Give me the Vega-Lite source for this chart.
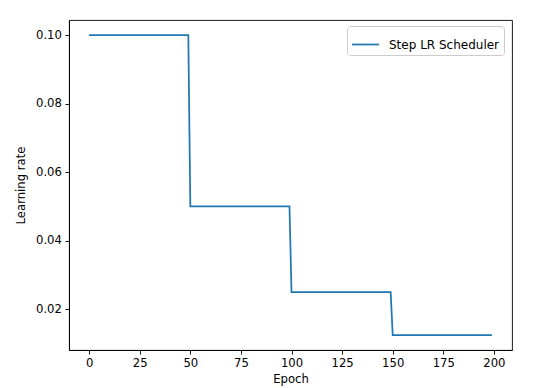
{
  "$schema": "https://vega.github.io/schema/vega-lite/v6.json",
  "width": 443,
  "height": 330,
  "padding": {"left": 69, "top": 20, "right": 25, "bottom": 38},
  "autosize": {"type": "none"},
  "background": "white",
  "config": {
    "font": "DejaVu Sans",
    "view": {"stroke": "#000000", "strokeWidth": 0.9},
    "axis": {
      "grid": false,
      "domainColor": "#000000",
      "domainWidth": 0.9,
      "tickColor": "#000000",
      "tickWidth": 0.9,
      "tickSize": 4.1,
      "labelFont": "DejaVu Sans",
      "labelFontSize": 11.65,
      "labelColor": "#000000",
      "labelPadding": 3.5,
      "titleFont": "DejaVu Sans",
      "titleFontSize": 11.65,
      "titleFontWeight": "normal",
      "titleColor": "#000000"
    }
  },
  "data": {
    "values": [
      {"epoch":0,"lr":0.1},{"epoch":1,"lr":0.1},{"epoch":2,"lr":0.1},{"epoch":3,"lr":0.1},{"epoch":4,"lr":0.1},{"epoch":5,"lr":0.1},{"epoch":6,"lr":0.1},{"epoch":7,"lr":0.1},{"epoch":8,"lr":0.1},{"epoch":9,"lr":0.1},
      {"epoch":10,"lr":0.1},{"epoch":11,"lr":0.1},{"epoch":12,"lr":0.1},{"epoch":13,"lr":0.1},{"epoch":14,"lr":0.1},{"epoch":15,"lr":0.1},{"epoch":16,"lr":0.1},{"epoch":17,"lr":0.1},{"epoch":18,"lr":0.1},{"epoch":19,"lr":0.1},
      {"epoch":20,"lr":0.1},{"epoch":21,"lr":0.1},{"epoch":22,"lr":0.1},{"epoch":23,"lr":0.1},{"epoch":24,"lr":0.1},{"epoch":25,"lr":0.1},{"epoch":26,"lr":0.1},{"epoch":27,"lr":0.1},{"epoch":28,"lr":0.1},{"epoch":29,"lr":0.1},
      {"epoch":30,"lr":0.1},{"epoch":31,"lr":0.1},{"epoch":32,"lr":0.1},{"epoch":33,"lr":0.1},{"epoch":34,"lr":0.1},{"epoch":35,"lr":0.1},{"epoch":36,"lr":0.1},{"epoch":37,"lr":0.1},{"epoch":38,"lr":0.1},{"epoch":39,"lr":0.1},
      {"epoch":40,"lr":0.1},{"epoch":41,"lr":0.1},{"epoch":42,"lr":0.1},{"epoch":43,"lr":0.1},{"epoch":44,"lr":0.1},{"epoch":45,"lr":0.1},{"epoch":46,"lr":0.1},{"epoch":47,"lr":0.1},{"epoch":48,"lr":0.1},{"epoch":49,"lr":0.1},
      {"epoch":50,"lr":0.05},{"epoch":51,"lr":0.05},{"epoch":52,"lr":0.05},{"epoch":53,"lr":0.05},{"epoch":54,"lr":0.05},{"epoch":55,"lr":0.05},{"epoch":56,"lr":0.05},{"epoch":57,"lr":0.05},{"epoch":58,"lr":0.05},{"epoch":59,"lr":0.05},
      {"epoch":60,"lr":0.05},{"epoch":61,"lr":0.05},{"epoch":62,"lr":0.05},{"epoch":63,"lr":0.05},{"epoch":64,"lr":0.05},{"epoch":65,"lr":0.05},{"epoch":66,"lr":0.05},{"epoch":67,"lr":0.05},{"epoch":68,"lr":0.05},{"epoch":69,"lr":0.05},
      {"epoch":70,"lr":0.05},{"epoch":71,"lr":0.05},{"epoch":72,"lr":0.05},{"epoch":73,"lr":0.05},{"epoch":74,"lr":0.05},{"epoch":75,"lr":0.05},{"epoch":76,"lr":0.05},{"epoch":77,"lr":0.05},{"epoch":78,"lr":0.05},{"epoch":79,"lr":0.05},
      {"epoch":80,"lr":0.05},{"epoch":81,"lr":0.05},{"epoch":82,"lr":0.05},{"epoch":83,"lr":0.05},{"epoch":84,"lr":0.05},{"epoch":85,"lr":0.05},{"epoch":86,"lr":0.05},{"epoch":87,"lr":0.05},{"epoch":88,"lr":0.05},{"epoch":89,"lr":0.05},
      {"epoch":90,"lr":0.05},{"epoch":91,"lr":0.05},{"epoch":92,"lr":0.05},{"epoch":93,"lr":0.05},{"epoch":94,"lr":0.05},{"epoch":95,"lr":0.05},{"epoch":96,"lr":0.05},{"epoch":97,"lr":0.05},{"epoch":98,"lr":0.05},{"epoch":99,"lr":0.05},
      {"epoch":100,"lr":0.025},{"epoch":101,"lr":0.025},{"epoch":102,"lr":0.025},{"epoch":103,"lr":0.025},{"epoch":104,"lr":0.025},{"epoch":105,"lr":0.025},{"epoch":106,"lr":0.025},{"epoch":107,"lr":0.025},{"epoch":108,"lr":0.025},{"epoch":109,"lr":0.025},
      {"epoch":110,"lr":0.025},{"epoch":111,"lr":0.025},{"epoch":112,"lr":0.025},{"epoch":113,"lr":0.025},{"epoch":114,"lr":0.025},{"epoch":115,"lr":0.025},{"epoch":116,"lr":0.025},{"epoch":117,"lr":0.025},{"epoch":118,"lr":0.025},{"epoch":119,"lr":0.025},
      {"epoch":120,"lr":0.025},{"epoch":121,"lr":0.025},{"epoch":122,"lr":0.025},{"epoch":123,"lr":0.025},{"epoch":124,"lr":0.025},{"epoch":125,"lr":0.025},{"epoch":126,"lr":0.025},{"epoch":127,"lr":0.025},{"epoch":128,"lr":0.025},{"epoch":129,"lr":0.025},
      {"epoch":130,"lr":0.025},{"epoch":131,"lr":0.025},{"epoch":132,"lr":0.025},{"epoch":133,"lr":0.025},{"epoch":134,"lr":0.025},{"epoch":135,"lr":0.025},{"epoch":136,"lr":0.025},{"epoch":137,"lr":0.025},{"epoch":138,"lr":0.025},{"epoch":139,"lr":0.025},
      {"epoch":140,"lr":0.025},{"epoch":141,"lr":0.025},{"epoch":142,"lr":0.025},{"epoch":143,"lr":0.025},{"epoch":144,"lr":0.025},{"epoch":145,"lr":0.025},{"epoch":146,"lr":0.025},{"epoch":147,"lr":0.025},{"epoch":148,"lr":0.025},{"epoch":149,"lr":0.025},
      {"epoch":150,"lr":0.0125},{"epoch":151,"lr":0.0125},{"epoch":152,"lr":0.0125},{"epoch":153,"lr":0.0125},{"epoch":154,"lr":0.0125},{"epoch":155,"lr":0.0125},{"epoch":156,"lr":0.0125},{"epoch":157,"lr":0.0125},{"epoch":158,"lr":0.0125},{"epoch":159,"lr":0.0125},
      {"epoch":160,"lr":0.0125},{"epoch":161,"lr":0.0125},{"epoch":162,"lr":0.0125},{"epoch":163,"lr":0.0125},{"epoch":164,"lr":0.0125},{"epoch":165,"lr":0.0125},{"epoch":166,"lr":0.0125},{"epoch":167,"lr":0.0125},{"epoch":168,"lr":0.0125},{"epoch":169,"lr":0.0125},
      {"epoch":170,"lr":0.0125},{"epoch":171,"lr":0.0125},{"epoch":172,"lr":0.0125},{"epoch":173,"lr":0.0125},{"epoch":174,"lr":0.0125},{"epoch":175,"lr":0.0125},{"epoch":176,"lr":0.0125},{"epoch":177,"lr":0.0125},{"epoch":178,"lr":0.0125},{"epoch":179,"lr":0.0125},
      {"epoch":180,"lr":0.0125},{"epoch":181,"lr":0.0125},{"epoch":182,"lr":0.0125},{"epoch":183,"lr":0.0125},{"epoch":184,"lr":0.0125},{"epoch":185,"lr":0.0125},{"epoch":186,"lr":0.0125},{"epoch":187,"lr":0.0125},{"epoch":188,"lr":0.0125},{"epoch":189,"lr":0.0125},
      {"epoch":190,"lr":0.0125},{"epoch":191,"lr":0.0125},{"epoch":192,"lr":0.0125},{"epoch":193,"lr":0.0125},{"epoch":194,"lr":0.0125},{"epoch":195,"lr":0.0125},{"epoch":196,"lr":0.0125},{"epoch":197,"lr":0.0125},{"epoch":198,"lr":0.0125},{"epoch":199,"lr":0.0125}
    ]
  },
  "mark": {"type": "line", "strokeWidth": 1.75, "clip": true},
  "encoding": {
    "x": {
      "field": "epoch",
      "type": "quantitative",
      "scale": {"domain": [-9.95, 208.95], "nice": false, "zero": false},
      "axis": {"values": [0, 25, 50, 75, 100, 125, 150, 175, 200], "title": "Epoch", "titlePadding": 4}
    },
    "y": {
      "field": "lr",
      "type": "quantitative",
      "scale": {"domain": [0.008125, 0.104375], "nice": false, "zero": false},
      "axis": {"values": [0.02, 0.04, 0.06, 0.08, 0.1], "format": ".2f", "title": "Learning rate", "titlePadding": 9}
    },
    "color": {
      "datum": "Step LR Scheduler",
      "type": "nominal",
      "scale": {"range": ["#1f77b4"]},
      "legend": {
        "title": null,
        "orient": "none",
        "legendX": 278,
        "legendY": 6,
        "symbolType": "stroke",
        "symbolSize": 729,
        "symbolStrokeWidth": 1.75,
        "labelFont": "DejaVu Sans",
        "labelFontSize": 12,
        "labelColor": "#000000",
        "labelOffset": 9,
        "padding": 4,
        "fillColor": "white",
        "strokeColor": "#cccccc",
        "cornerRadius": 3
      }
    }
  }
}
